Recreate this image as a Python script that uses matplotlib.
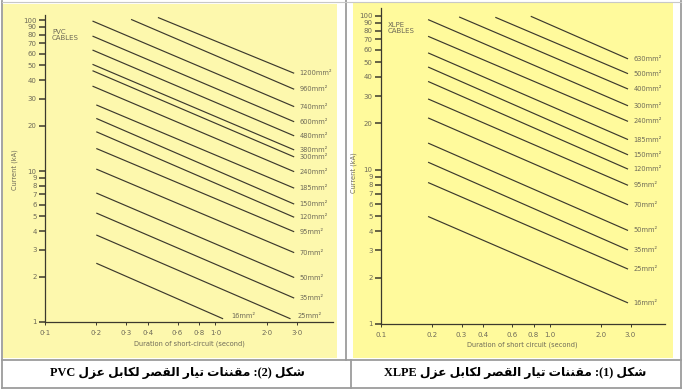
import re
import matplotlib.pyplot as plt
from matplotlib.patches import Rectangle
from matplotlib.lines import Line2D

# ---- data ----
x_ticks = [0.1, 0.2, 0.3, 0.4, 0.6, 0.8, 1.0, 2.0, 3.0]
pvc_x_labels = ['0·1', '0·2', '0·3', '0·4', '0·6', '0·8', '1·0', '2·0', '3·0']
xlpe_x_labels = ['0.1', '0.2', '0.3', '0.4', '0.6', '0.8', '1.0', '2.0', '3.0']
y_ticks = [1, 2, 3, 4, 5, 6, 7, 8, 9, 10, 20, 30, 40, 50, 60, 70, 80, 90, 100]
y_labels = ['1', '2', '3', '4', '5', '6', '7', '8', '9', '10',
            '20', '30', '40', '50', '60', '70', '80', '90', '100']

# PVC cables: each line from (t_start, i_start) to (t_end, i_end), current in kA
pvc_sizes = ['1200', '960', '740', '600', '480', '380', '300', '240', '185',
             '150', '120', '95', '70', '50', '35', '25', '16']
pvc_t_start = [0.46, 0.32, 0.19, 0.19, 0.19, 0.19, 0.19, 0.19, 0.2,
               0.2, 0.2, 0.2, 0.2, 0.2, 0.2, 0.2, 0.2]
pvc_i_start = [104, 101, 98.5, 78.3, 63.3, 50.9, 46.2, 36.5, 27.4,
               22.3, 18.2, 14.1, 10.3, 7.15, 5.27, 3.77, 2.45]
pvc_t_end = [2.9, 2.9, 2.9, 2.9, 2.9, 2.9, 2.9, 2.9, 2.9,
             2.9, 2.9, 2.9, 2.9, 2.9, 2.9, 2.76, 1.11]
pvc_i_end = [44.4, 34.8, 26.7, 21.2, 17.1, 13.8, 12.4, 9.9, 7.7,
             6.04, 4.94, 3.96, 2.88, 1.97, 1.44, 1.05, 1.05]

# XLPE cables
xlpe_sizes = ['630', '500', '400', '300', '240', '185', '150', '120', '95',
              '70', '50', '35', '25', '16']
xlpe_t_start = [0.77, 0.475, 0.29, 0.19, 0.19, 0.19, 0.19, 0.19, 0.19,
                0.19, 0.19, 0.19, 0.19, 0.19]
xlpe_i_start = [99, 97.5, 98, 94.2, 73.4, 57.3, 46.4, 37.4, 28.8,
                21.7, 14.9, 11.2, 8.27, 4.98]
xlpe_t_end = [2.9, 2.9, 2.9, 2.9, 2.9, 2.9, 2.9, 2.9, 2.9,
              2.9, 2.9, 2.9, 2.9, 2.9]
xlpe_i_end = [52.4, 42, 33.4, 26, 20.6, 15.7, 12.5, 10.1, 7.93,
              5.93, 4.04, 3.02, 2.27, 1.37]

caption_pvc = 'شكل (2): مقننات تيار القصر لكابل عزل PVC'
caption_xlpe = 'شكل (1): مقننات تيار القصر لكابل عزل XLPE'

# ---- minimal Arabic shaping (matplotlib has no complex text layout) ----
# isolated, final, initial, medial presentation forms
FORMS = {
    'ا': (0xFE8D, 0xFE8E, None, None),
    'ب': (0xFE8F, 0xFE90, 0xFE91, 0xFE92),
    'ت': (0xFE95, 0xFE96, 0xFE97, 0xFE98),
    'ر': (0xFEAD, 0xFEAE, None, None),
    'ز': (0xFEAF, 0xFEB0, None, None),
    'ش': (0xFEB5, 0xFEB6, 0xFEB7, 0xFEB8),
    'ص': (0xFEB9, 0xFEBA, 0xFEBB, 0xFEBC),
    'ع': (0xFEC9, 0xFECA, 0xFECB, 0xFECC),
    'ق': (0xFED5, 0xFED6, 0xFED7, 0xFED8),
    'ك': (0xFED9, 0xFEDA, 0xFEDB, 0xFEDC),
    'ل': (0xFEDD, 0xFEDE, 0xFEDF, 0xFEE0),
    'م': (0xFEE1, 0xFEE2, 0xFEE3, 0xFEE4),
    'ن': (0xFEE5, 0xFEE6, 0xFEE7, 0xFEE8),
    'ي': (0xFEF1, 0xFEF2, 0xFEF3, 0xFEF4),
}


def arabic_visual(text):
    out = []
    for i, ch in enumerate(text):
        if ch not in FORMS:
            out.append(ch)
            continue
        f = FORMS[ch]
        prev = text[i - 1] if i > 0 else ''
        nxt = text[i + 1] if i + 1 < len(text) else ''
        join_prev = prev in FORMS and FORMS[prev][2] is not None
        join_next = f[2] is not None and nxt in FORMS
        if join_prev and join_next:
            code = f[3]
        elif join_prev:
            code = f[1]
        elif join_next:
            code = f[2]
        else:
            code = f[0]
        out.append(chr(code))
    vis = ''.join(out)[::-1]
    vis = re.sub(r'[A-Za-z0-9]+', lambda m: m.group(0)[::-1], vis)
    return vis.translate(str.maketrans('()', ')('))


W, H = 684, 389
LINE_C = '#3c392d'
TEXT_C = '#6e6a58'


def fx(px):
    return px / W


def fy(py):
    return 1 - py / H


fig = plt.figure(figsize=(6.84, 3.89), dpi=100)

# yellow scanned backgrounds
fig.add_artist(Rectangle((fx(3), fy(358)), 334 / W, 354 / H, transform=fig.transFigure,
                         facecolor='#fdf8ad', edgecolor='none', zorder=0))
fig.add_artist(Rectangle((fx(353), fy(358)), 320 / W, 355 / H, transform=fig.transFigure,
                         facecolor='#fffa9c', edgecolor='none', zorder=0))

# table borders
border = dict(transform=fig.transFigure, color='#9c9c9c', lw=1.3)
fig.add_artist(Line2D([fx(2), fx(2)], [fy(1), fy(388)], **border))
fig.add_artist(Line2D([fx(681), fx(681)], [fy(1), fy(388)], **border))
fig.add_artist(Line2D([fx(346), fx(346)], [fy(0), fy(359.5)], **border))
fig.add_artist(Line2D([fx(351), fx(351)], [fy(359.5), fy(388)], **border))
fig.add_artist(Line2D([fx(2), fx(681)], [fy(359.5), fy(359.5)], **border))
fig.add_artist(Line2D([fx(2), fx(681)], [fy(387.5), fy(387.5)], **border))
fig.add_artist(Line2D([fx(2), fx(681)], [fy(1.5), fy(1.5)], transform=fig.transFigure,
                      color='#c8c8c8', lw=0.8))


def draw_chart(rect, sizes, t0, i0, t1, i1, xlabels, xmax, ymax, name, xlabel, special):
    ax = fig.add_axes(rect)
    ax.patch.set_visible(False)
    ax.set_xscale('log')
    ax.set_yscale('log')
    ax.set_xlim(0.1, xmax)
    ax.set_ylim(1, ymax)
    for s, a, b, c, d in zip(sizes, t0, i0, t1, i1):
        ax.plot([a, c], [b, d], color=LINE_C, lw=0.85, solid_capstyle='butt')
        off = special.get(s, (4, 0))
        ax.annotate(s + 'mm²', (c, d), xytext=off, textcoords='offset points',
                    ha='left', va='center', fontsize=4.8, color=TEXT_C)
    ax.set_xticks(x_ticks)
    ax.set_xticklabels(xlabels)
    ax.xaxis.set_minor_locator(plt.NullLocator())
    ax.set_yticks(y_ticks)
    ax.set_yticklabels(y_labels)
    ax.yaxis.set_minor_locator(plt.NullLocator())
    for sp in ['top', 'right']:
        ax.spines[sp].set_visible(False)
    for sp in ['left', 'bottom']:
        ax.spines[sp].set_color(LINE_C)
        ax.spines[sp].set_linewidth(0.9)
    ax.tick_params(axis='y', direction='out', length=4, width=1.1, color=LINE_C,
                   labelsize=5, labelcolor=TEXT_C, pad=2)
    ax.tick_params(axis='x', direction='out', length=2.5, width=0.7, color=LINE_C,
                   labelsize=5, labelcolor=TEXT_C, pad=3)
    ax.text(0.024, 0.955, name + '\nCABLES', transform=ax.transAxes, ha='left', va='top',
            fontsize=5, color=TEXT_C, linespacing=1.0)
    ax.set_ylabel('Current (kA)', fontsize=4.8, color=TEXT_C)
    ax.set_xlabel(xlabel, fontsize=4.8, color=TEXT_C)
    return ax


ax1 = draw_chart([fx(45), fy(322), 288 / W, 307 / H], pvc_sizes, pvc_t_start, pvc_i_start,
                 pvc_t_end, pvc_i_end, pvc_x_labels, 4.9, 108, 'PVC',
                 'Duration of short-circuit (second)', {'16': (6, 2), '25': (5, 2)})
ax1.yaxis.set_label_coords(-0.094, 0.495)
ax1.xaxis.set_label_coords(0.503, -0.061)

ax2 = draw_chart([fx(381), fy(324), 284 / W, 316 / H], xlpe_sizes, xlpe_t_start, xlpe_i_start,
                 xlpe_t_end, xlpe_i_end, xlpe_x_labels, 4.8, 112, 'XLPE',
                 'Duration of short circuit (second)', {})
ax2.yaxis.set_label_coords(-0.085, 0.48)
ax2.xaxis.set_label_coords(0.496, -0.054)

cap = dict(ha='center', va='center', fontsize=8.8, fontweight='bold', color='black',
           family=['Liberation Serif', 'DejaVu Sans'])
fig.text(fx(177), fy(373), arabic_visual(caption_pvc), **cap)
fig.text(fx(515), fy(373), arabic_visual(caption_xlpe), **cap)

fig.savefig('out.png', dpi=100)
